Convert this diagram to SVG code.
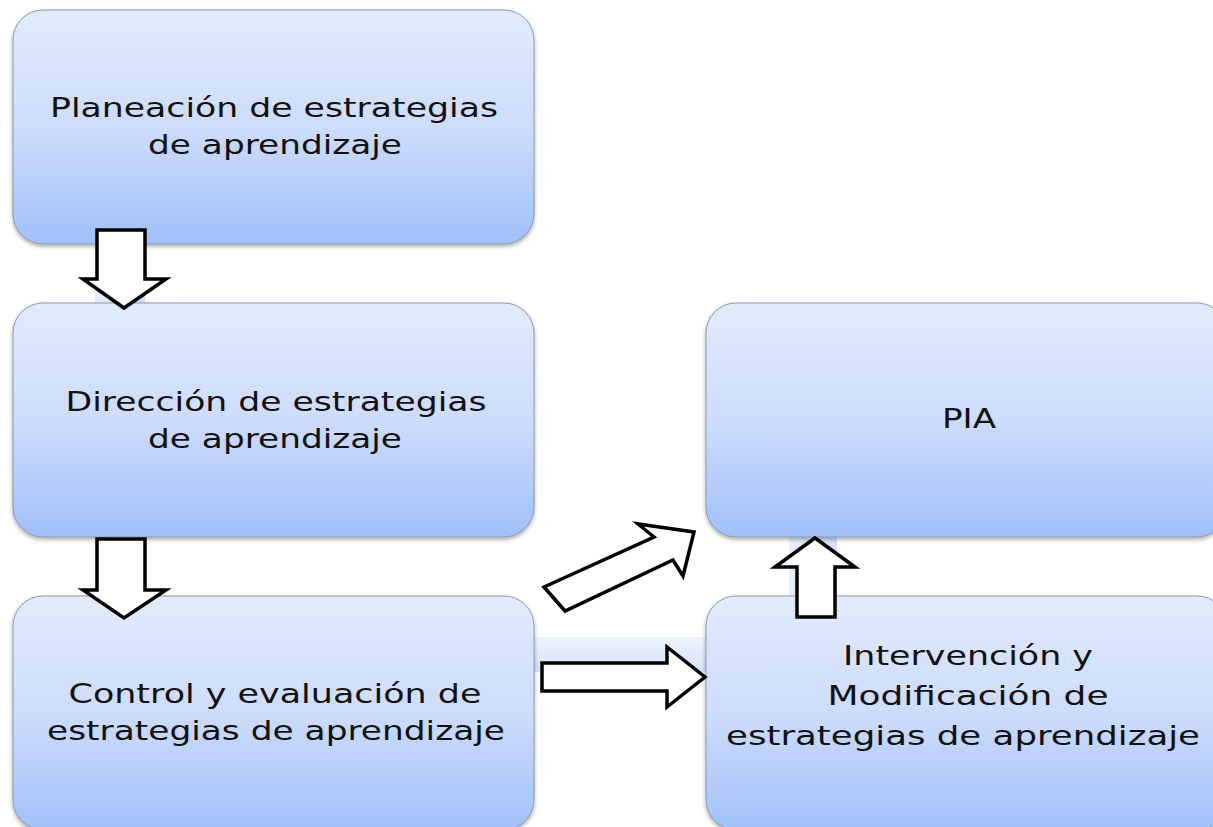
<svg xmlns="http://www.w3.org/2000/svg" width="1213" height="827" viewBox="0 0 1213 827">
<defs>
<linearGradient id="boxg" x1="0" y1="0" x2="0" y2="1">
<stop offset="0" stop-color="#e2ebfc"/>
<stop offset="0.5" stop-color="#cddcfb"/>
<stop offset="1" stop-color="#a1c0f9"/>
</linearGradient>
<linearGradient id="bandv" x1="0" y1="0" x2="1" y2="0">
<stop offset="0" stop-color="#e6eefc"/>
<stop offset="1" stop-color="#d2e0fa"/>
</linearGradient>
<linearGradient id="bandh" x1="0" y1="0" x2="0" y2="1">
<stop offset="0" stop-color="#eef3fd"/>
<stop offset="1" stop-color="#d6e3fa"/>
</linearGradient>
<filter id="sh" x="-5%" y="-5%" width="110%" height="115%">
<feGaussianBlur in="SourceAlpha" stdDeviation="2"/>
<feOffset dx="0" dy="2" result="b"/>
<feComponentTransfer><feFuncA type="linear" slope="0.35"/></feComponentTransfer>
<feMerge><feMergeNode/><feMergeNode in="SourceGraphic"/></feMerge>
</filter>
</defs>
<style>
.box{fill:url(#boxg);stroke:#8e99aa;stroke-width:1;filter:url(#sh)}
.t{font-family:"DejaVu Sans","Open Sans",sans-serif;font-size:27px;fill:#111;text-anchor:middle}
.arr{fill:#fff;stroke:#000;stroke-width:3.5;stroke-linejoin:miter}
</style>
<rect width="1213" height="827" fill="#fff"/>
<g id="bands">
<rect x="95" y="240" width="50" height="68" fill="url(#bandv)"/>
<rect x="95" y="533" width="50" height="68" fill="url(#bandv)"/>
<rect x="789" y="533" width="48" height="68" fill="url(#bandv)"/>
<rect x="530" y="637" width="180" height="35" fill="url(#bandh)"/>
</g>
<g id="n1">
<rect class="box" x="13" y="10" width="521" height="234" rx="30"/>
<text class="t" x="274" y="117" textLength="448" lengthAdjust="spacingAndGlyphs">Planeación de estrategias</text>
<text class="t" x="275" y="154" textLength="254" lengthAdjust="spacingAndGlyphs">de aprendizaje</text>
</g>
<g id="n2">
<rect class="box" x="13" y="303" width="521" height="234" rx="30"/>
<text class="t" x="276" y="411" textLength="421" lengthAdjust="spacingAndGlyphs">Dirección de estrategias</text>
<text class="t" x="275" y="448" textLength="254" lengthAdjust="spacingAndGlyphs">de aprendizaje</text>
</g>
<g id="n3">
<rect class="box" x="13" y="596" width="521" height="234" rx="30"/>
<text class="t" x="275" y="703" textLength="413" lengthAdjust="spacingAndGlyphs">Control y evaluación de</text>
<text class="t" x="276" y="740" textLength="458" lengthAdjust="spacingAndGlyphs">estrategias de aprendizaje</text>
</g>
<g id="n4">
<rect class="box" x="706" y="303" width="521" height="234" rx="30"/>
<text class="t" x="969" y="428" textLength="54" lengthAdjust="spacingAndGlyphs">PIA</text>
</g>
<g id="n5">
<rect class="box" x="706" y="596" width="521" height="234" rx="30"/>
<text class="t" x="968" y="665" textLength="250" lengthAdjust="spacingAndGlyphs">Intervención y</text>
<text class="t" x="968" y="705" textLength="281" lengthAdjust="spacingAndGlyphs">Modificación de</text>
<text class="t" x="963" y="745" textLength="474" lengthAdjust="spacingAndGlyphs">estrategias de aprendizaje</text>
</g>
<g id="connectors">
<polygon class="arr" points="97,230 145,230 145,279 166,279 124,308 83,279 97,279"/>
<polygon class="arr" points="97,539 145,539 145,590 166,590 124,618 83,590 97,590"/>
<polygon class="arr" points="544,587 654,537 638,524 694,532 683,576 673,560 565,611"/>
<polygon class="arr" points="542,663 667,663 667,647 705,677 667,707 667,691 542,691"/>
<polygon class="arr" points="797,617 797,567 775,567 815,538 855,567 835,567 835,617"/>
</g>
</svg>
